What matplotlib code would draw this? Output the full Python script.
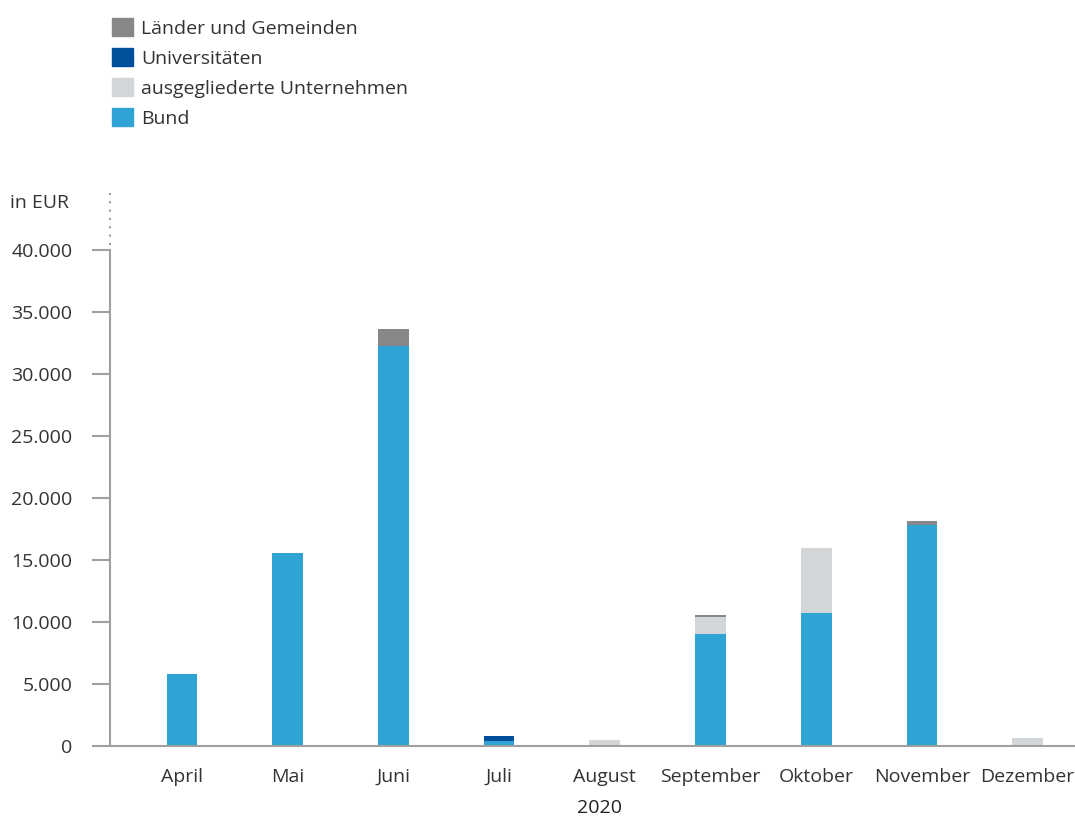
import matplotlib
matplotlib.use("Agg")
import matplotlib.pyplot as plt
from matplotlib.patches import Patch
from matplotlib.ticker import FuncFormatter

plt.rcParams['font.family'] = ['Open Sans', 'DejaVu Sans']

months = ["April", "Mai", "Juni", "Juli", "August", "September",
          "Oktober", "November", "Dezember"]
bund = [5800, 15550, 32250, 380, 0, 9030, 10730, 17820, 0]
ausgegliedert = [0, 0, 0, 0, 480, 1400, 5240, 0, 650]
universitaeten = [0, 0, 0, 420, 0, 0, 0, 0, 0]
laender = [0, 0, 1380, 0, 0, 130, 0, 330, 0]

c_bund = "#2ea3d4"
c_ausg = "#d3d6d9"
c_uni = "#004f9c"
c_land = "#878787"
c_axis = "#a0a0a0"
c_text = "#333333"

fig = plt.figure(figsize=(10.75, 8.19), dpi=100)
W, H = 1075, 819
ax = fig.add_axes([110 / W, (H - 746) / H, (W - 110) / W, (746 - 250) / H])

x = list(range(len(months)))
bw = 0.29
b1 = bund
b2 = [a + b for a, b in zip(b1, ausgegliedert)]
b3 = [a + b for a, b in zip(b2, universitaeten)]
ax.bar(x, bund, width=bw, color=c_bund, zorder=2)
ax.bar(x, ausgegliedert, width=bw, bottom=b1, color=c_ausg, zorder=2)
ax.bar(x, universitaeten, width=bw, bottom=b2, color=c_uni, zorder=2)
ax.bar(x, laender, width=bw, bottom=b3, color=c_land, zorder=2)

xmin = (110 - 182) / 105.7
xmax = (1075 - 182) / 105.7
ax.set_xlim(xmin, xmax)
ax.set_ylim(0, 40000)
ax.set_yticks(range(0, 40001, 5000))
ax.yaxis.set_major_formatter(FuncFormatter(lambda v, p: f"{int(v):,}".replace(",", ".")))
ax.set_xticks(x)
ax.set_xticklabels(months)

for s in ["top", "right"]:
    ax.spines[s].set_visible(False)
for s in ["left", "bottom"]:
    ax.spines[s].set_color(c_axis)
    ax.spines[s].set_linewidth(1.5)

ax.tick_params(axis="y", length=13, width=1.5, color=c_axis, pad=14,
               labelsize=14, labelcolor=c_text)
ax.tick_params(axis="x", length=0, pad=16, labelsize=14, labelcolor=c_text)

# dotted continuation of the y axis
ax.plot([xmin, xmin], [40400, 44900], linestyle=(0, (1, 3)), color=c_axis,
        linewidth=1.5, clip_on=False)

fig.text(10 / W, 1 - 203 / H, "in EUR", fontsize=14, color=c_text, va="center")
fig.text(599 / W, 1 - 808 / H, "2020", fontsize=14, color="#222222",
         ha="center", va="center")

handles = [Patch(color=c_land, label="Länder und Gemeinden"),
           Patch(color=c_uni, label="Universitäten"),
           Patch(color=c_ausg, label="ausgegliederte Unternehmen"),
           Patch(color=c_bund, label="Bund")]
fig.legend(handles=handles, loc="upper left",
           bbox_to_anchor=(112 / W, 1 - 18 / H), frameon=False,
           fontsize=14, labelcolor=c_text, borderpad=0, borderaxespad=0,
           handlelength=1.08, handleheight=1.08, handletextpad=0.4,
           labelspacing=0.52)

fig.savefig("out.png", dpi=100)
